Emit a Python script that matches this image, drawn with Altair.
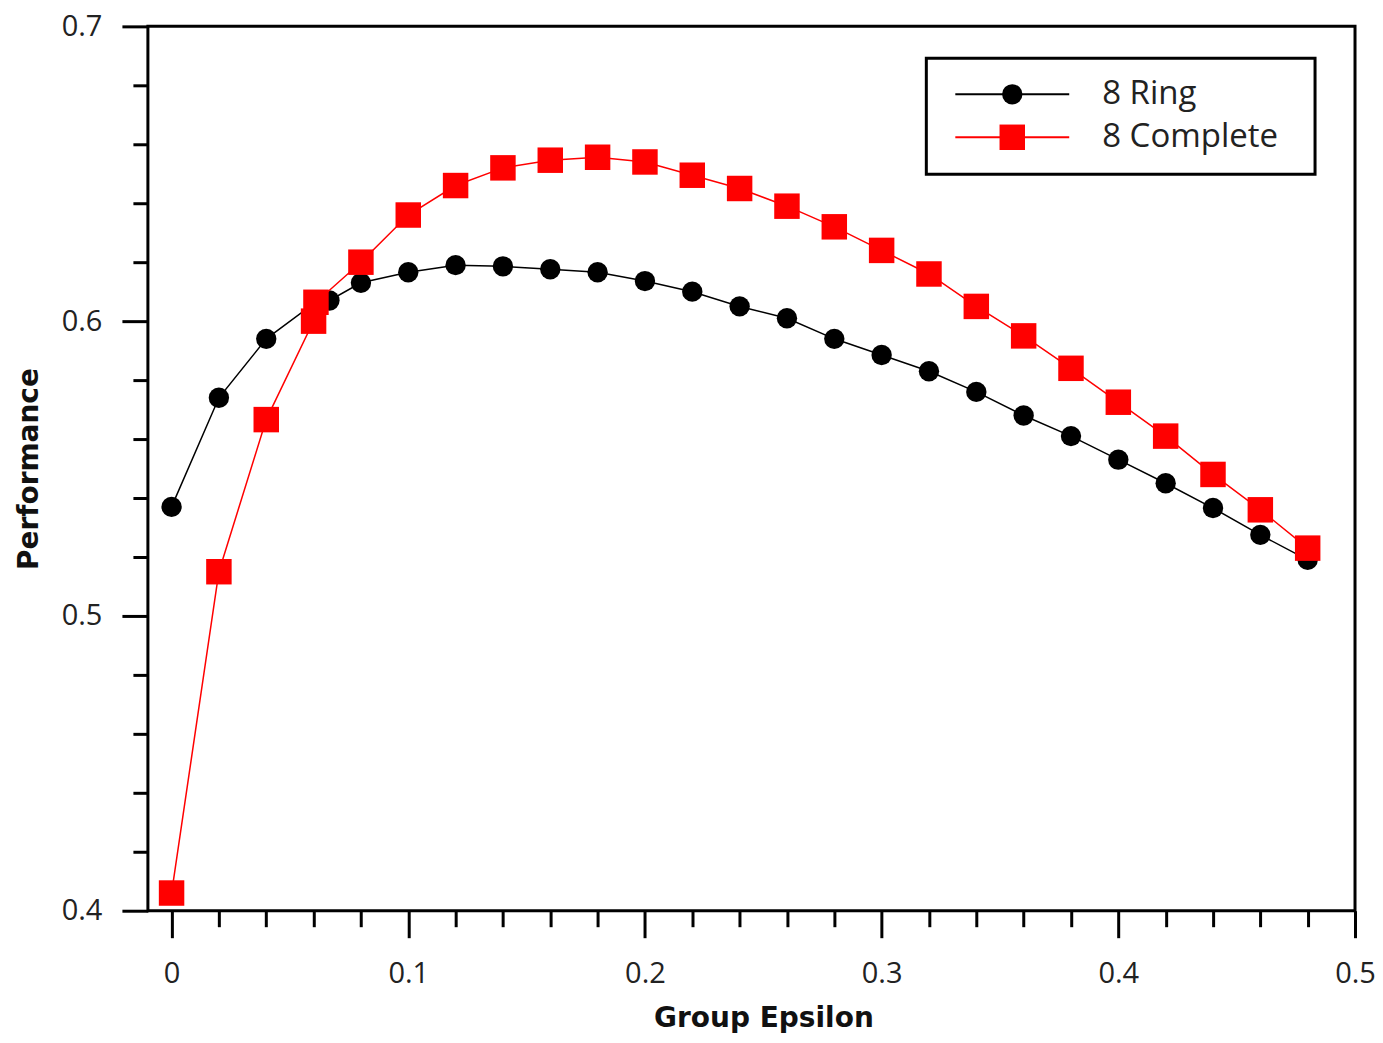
import altair as alt
import pandas as pd

series_names = ["8 Ring", "8 Complete"]
series_colors = ["#000000", "#ff0000"]
series_shapes = ["circle", "square"]

ring_x = [0, 0.02, 0.04, 0.061, 0.0667, 0.08, 0.10, 0.12, 0.14, 0.16, 0.18, 0.20, 0.22,
          0.24, 0.26, 0.28, 0.30, 0.32, 0.34, 0.36, 0.38, 0.40, 0.42, 0.44, 0.46, 0.48]
ring_y = [0.537, 0.574, 0.594, 0.6065, 0.607, 0.613, 0.6166, 0.619, 0.6186, 0.6176, 0.6166,
          0.6136, 0.610, 0.605, 0.601, 0.594, 0.5885, 0.583, 0.576, 0.568, 0.561, 0.553,
          0.545, 0.5366, 0.5275, 0.519]

complete_x = [0, 0.02, 0.04, 0.06, 0.061, 0.08, 0.10, 0.12, 0.14, 0.16, 0.18, 0.20, 0.22,
              0.24, 0.26, 0.28, 0.30, 0.32, 0.34, 0.36, 0.38, 0.40, 0.42, 0.44, 0.46, 0.48]
complete_y = [0.406, 0.515, 0.5666, 0.600, 0.6064, 0.620, 0.636, 0.646, 0.652, 0.6546, 0.6556,
              0.654, 0.6495, 0.645, 0.639, 0.632, 0.624, 0.616, 0.605, 0.595, 0.584, 0.5725,
              0.561, 0.548, 0.536, 0.523]

x_tick_values = [round(i * 0.02, 2) for i in range(26)]
y_tick_values = [round(0.4 + i * 0.02, 2) for i in range(16)]

series_x = [ring_x, complete_x]
series_y = [ring_y, complete_y]

label_font = "Open Sans"
title_font = "DejaVu Sans"

x_scale = alt.Scale(domain=[-0.01, 0.5], nice=False, zero=False)
y_scale = alt.Scale(domain=[0.4, 0.7], nice=False, zero=False)

major_test = "abs(datum.value*10 - round(datum.value*10)) < 0.001"

x_axis = alt.Axis(
    values=x_tick_values,
    labelExpr=f"{major_test} ? format(datum.value, '.1~f') : ''",
    tickSize={"condition": {"test": major_test, "value": 27}, "value": 16},
    tickWidth=3, tickColor="black", domain=False, grid=False,
    labelFont=label_font, labelFontSize=29, labelColor="#222222",
    labelPadding=22, labelFlush=False, labelOverlap=False,
    title="Group Epsilon", titleFont=title_font, titleFontSize=28,
    titleFontWeight="bold", titleColor="#111111", titlePadding=16,
    titleX=616, titleAlign="center",
)
y_axis = alt.Axis(
    values=y_tick_values,
    labelExpr=f"{major_test} ? format(datum.value, '.1~f') : ''",
    tickSize={"condition": {"test": major_test, "value": 26}, "value": 15},
    tickWidth=3, tickColor="black", domain=False, grid=False,
    labelFont=label_font, labelFontSize=29, labelColor="#222222",
    labelPadding=20, labelFlush=False, labelOverlap=False,
    title="Performance", titleFont=title_font, titleFontSize=28,
    titleFontWeight="bold", titleColor="#111111", titlePadding=18,
)

layers = []
for i, name in enumerate(series_names):
    d = pd.DataFrame({"x": series_x[i], "y": series_y[i], "series": name})
    base = alt.Chart(d)
    line = base.mark_line(color=series_colors[i], strokeWidth=1.5).encode(
        x=alt.X("x:Q", scale=x_scale, axis=x_axis),
        y=alt.Y("y:Q", scale=y_scale, axis=y_axis),
        order="x:Q",
    )
    size = 415 if series_shapes[i] == "circle" else 650
    pts = base.mark_point(shape=series_shapes[i], filled=True, opacity=1,
                          color=series_colors[i], size=size).encode(
        x=alt.X("x:Q", scale=x_scale, axis=x_axis),
        y=alt.Y("y:Q", scale=y_scale, axis=y_axis),
    )
    layers += [line, pts]

# legend (drawn in pixel space of the plot area)
leg_df = pd.DataFrame({"name": ["legend"]})
box = alt.Chart(leg_df).mark_rect(fill="white", stroke="black", strokeWidth=3).encode(
    x=alt.value(779), x2=alt.value(1168), y=alt.value(32), y2=alt.value(148)
)
layers.append(box)
row_y = [68, 111]
for i, name in enumerate(series_names):
    rd = pd.DataFrame({"name": [name]})
    rule = alt.Chart(rd).mark_rule(color=series_colors[i], strokeWidth=2).encode(
        x=alt.value(808), x2=alt.value(922), y=alt.value(row_y[i])
    )
    size = 415 if series_shapes[i] == "circle" else 650
    sym = alt.Chart(rd).mark_point(shape=series_shapes[i], filled=True, opacity=1,
                                   color=series_colors[i], size=size).encode(
        x=alt.value(865), y=alt.value(row_y[i])
    )
    txt = alt.Chart(rd).mark_text(align="left", baseline="middle", font=label_font,
                                  fontSize=33, color="#222222").encode(
        x=alt.value(955), y=alt.value(row_y[i]), text="name:N"
    )
    layers += [rule, sym, txt]

chart = alt.layer(*layers).properties(
    width=1208, height=885,
    autosize=alt.AutoSizeParams(type="none"),
    padding={"left": 140, "top": 18, "right": 20, "bottom": 124},
).configure(background="white").configure_view(stroke="black", strokeWidth=3)

chart.save("out.html", embed_options={"renderer": "svg", "actions": False})
